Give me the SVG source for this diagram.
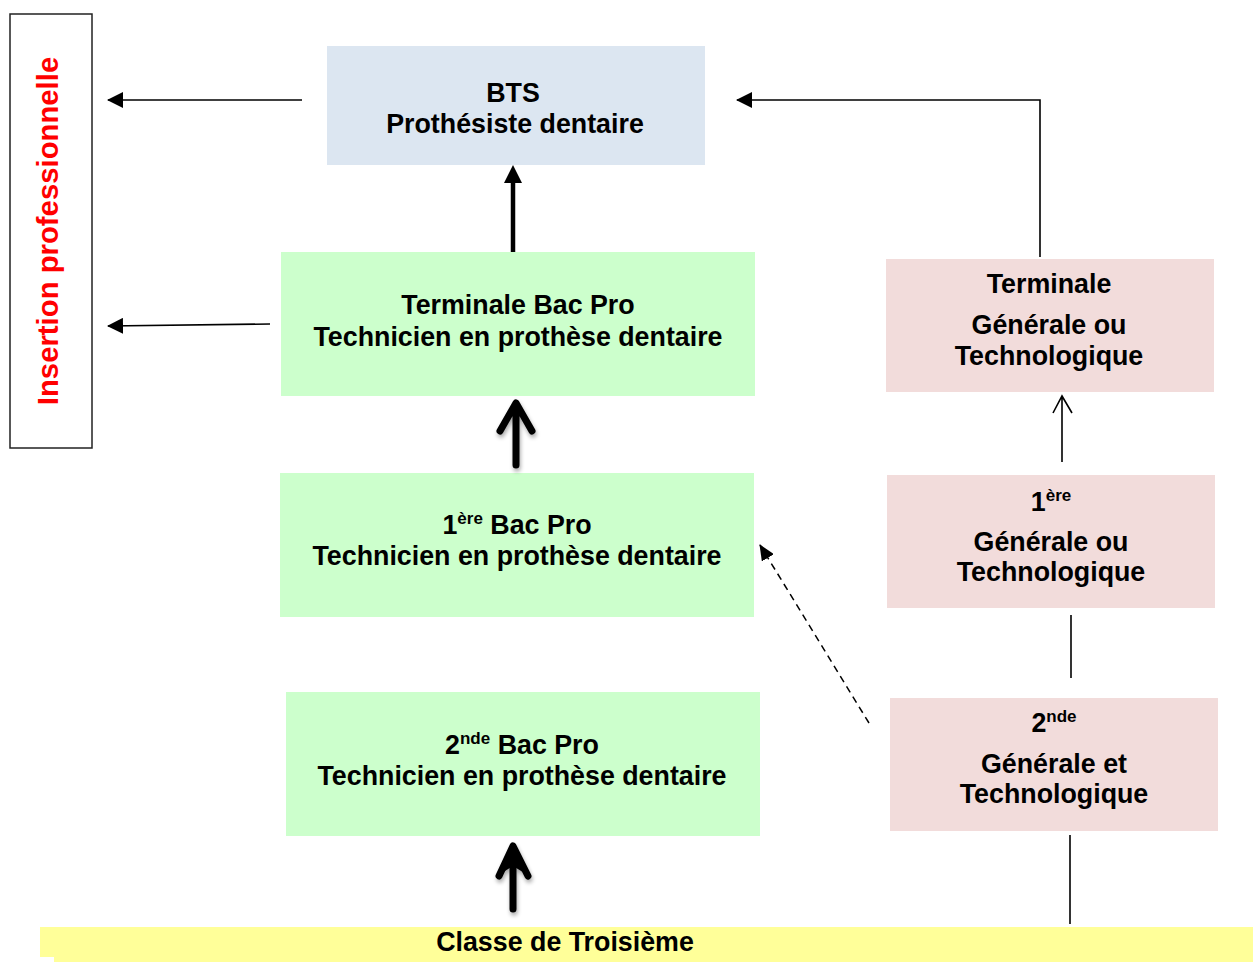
<svg xmlns="http://www.w3.org/2000/svg" width="1253" height="962" viewBox="0 0 1253 962">
<style>
text{font-family:"Liberation Sans",Arial,sans-serif;font-weight:bold;fill:#000;text-anchor:middle}
.t{font-size:26.8px}
.sup{font-size:17px}
.thin{stroke:#000;stroke-width:1.6;fill:none}
.thick{stroke:#000;fill:none;stroke-linecap:round;stroke-linejoin:round}
</style>
<defs>
<marker id="ah" viewBox="0 0 16 16" refX="15" refY="8" markerWidth="16" markerHeight="16" markerUnits="userSpaceOnUse" orient="auto">
<path d="M0,0 L16,8 L0,16 Z" fill="#000"/>
</marker>
<marker id="ahd" viewBox="0 0 16 14" refX="15" refY="7" markerWidth="16" markerHeight="14" markerUnits="userSpaceOnUse" orient="auto">
<path d="M0,0 L16,7 L0,14 Z" fill="#000"/>
</marker>
<filter id="sh" x="-50%" y="-50%" width="200%" height="200%">
<feGaussianBlur in="SourceAlpha" stdDeviation="2"/>
<feOffset dx="1" dy="3" result="b"/>
<feComponentTransfer><feFuncA type="linear" slope="0.35"/></feComponentTransfer>
<feMerge><feMergeNode/><feMergeNode in="SourceGraphic"/></feMerge>
</filter>
</defs>
<rect width="1253" height="962" fill="#fff"/>

<g id="insertion">
<rect x="10" y="14" width="82" height="434" fill="#fff" stroke="#222" stroke-width="1.5"/>
<text transform="translate(58,231) rotate(-90)" style="font-size:29.3px;fill:#ff0000">Insertion professionnelle</text>
</g>

<g id="bts">
<rect x="327" y="46" width="378" height="119" fill="#dce6f1"/>
<text class="t" x="513" y="102">BTS</text>
<text class="t" x="515" y="133">Prothésiste dentaire</text>
</g>

<g id="terminale-bacpro">
<rect x="281" y="252" width="474" height="144" fill="#ccffcc"/>
<text class="t" x="518" y="314">Terminale Bac Pro</text>
<text class="t" x="518" y="346">Technicien en prothèse dentaire</text>
</g>

<g id="premiere-bacpro">
<rect x="280" y="473" width="474" height="144" fill="#ccffcc"/>
<text class="t" x="517" y="534">1<tspan class="sup" dy="-10">ère</tspan><tspan dy="10"> Bac Pro</tspan></text>
<text class="t" x="517" y="565">Technicien en prothèse dentaire</text>
</g>

<g id="seconde-bacpro">
<rect x="286" y="692" width="474" height="144" fill="#ccffcc"/>
<text class="t" x="522" y="754">2<tspan class="sup" dy="-10">nde</tspan><tspan dy="10"> Bac Pro</tspan></text>
<text class="t" x="522" y="785">Technicien en prothèse dentaire</text>
</g>

<g id="terminale-gt">
<rect x="886" y="259" width="328" height="133" fill="#f2dcdb"/>
<text class="t" x="1049" y="293">Terminale</text>
<text class="t" x="1049" y="334">Générale ou</text>
<text class="t" x="1049" y="365">Technologique</text>
</g>

<g id="premiere-gt">
<rect x="887" y="475" width="328" height="133" fill="#f2dcdb"/>
<text class="t" x="1051" y="511">1<tspan class="sup" dy="-10">ère</tspan></text>
<text class="t" x="1051" y="551">Générale ou</text>
<text class="t" x="1051" y="581">Technologique</text>
</g>

<g id="seconde-gt">
<rect x="890" y="698" width="328" height="133" fill="#f2dcdb"/>
<text class="t" x="1054" y="732">2<tspan class="sup" dy="-10">nde</tspan></text>
<text class="t" x="1054" y="773">Générale et</text>
<text class="t" x="1054" y="803">Technologique</text>
</g>

<g id="troisieme">
<path d="M40,927 H1253 V962 H54 V957 H40 Z" fill="#ffff99"/>
<text class="t" x="565" y="951">Classe de Troisième</text>
</g>

<g id="connectors">
<line class="thin" x1="302" y1="100" x2="108" y2="100" marker-end="url(#ah)"/>
<line class="thin" x1="270" y1="324" x2="108" y2="326" marker-end="url(#ah)"/>
<polyline class="thin" points="1040,257 1040,100 737,100" marker-end="url(#ah)"/>
<line x1="513" y1="252" x2="513" y2="180" stroke="#000" stroke-width="4.5"/>
<path d="M513,165 L522,183 L504,183 Z" fill="#000"/>
<g filter="url(#sh)">
<path class="thick" d="M516,465 V404 M500,431 L516,403 L532,431" stroke-width="7"/>
</g>
<g filter="url(#sh)">
<line x1="511" y1="618" x2="511" y2="680" stroke="#000" stroke-width="5"/>
</g>
<g filter="url(#sh)">
<path class="thick" d="M513,909 V850 M499,876 L513,846 L528,876" stroke-width="7"/>
<path d="M513,846 L526,874 L513,866 L500,874 Z" fill="#000"/>
</g>
<path class="thin" d="M1062,462 V396 M1053,413 L1062,396 L1072,413"/>
<line x1="1071" y1="615" x2="1071" y2="678" stroke="#000" stroke-width="1.6"/>
<line x1="1070" y1="835" x2="1070" y2="924" stroke="#000" stroke-width="1.6"/>
<line x1="869" y1="723" x2="760" y2="545" stroke="#000" stroke-width="1.5" stroke-dasharray="7,5" marker-end="url(#ahd)"/>
</g>
</svg>
